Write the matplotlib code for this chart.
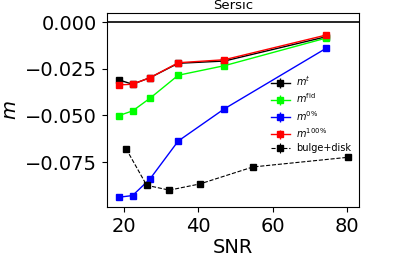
import matplotlib
matplotlib.use("Agg")
import matplotlib.pyplot as plt

# SNR values of each simulation bin
snr = [18.6, 22.3, 27.0, 34.6, 47.0, 74.4]
m_t = [-0.0310, -0.0333, -0.0298, -0.0221, -0.0209, -0.0079]
m_fid = [-0.0501, -0.0476, -0.0408, -0.0285, -0.0234, -0.0086]
m_0 = [-0.0938, -0.0929, -0.0840, -0.0637, -0.0465, -0.0141]
m_100 = [-0.0337, -0.0333, -0.0298, -0.0218, -0.0202, -0.0070]

snr_bd = [20.6, 26.1, 32.2, 40.4, 54.7, 80.4]
m_bd = [-0.0680, -0.0874, -0.0900, -0.0867, -0.0776, -0.0724]

fig = plt.figure(figsize=(3.99, 2.66), dpi=100)
ax = fig.add_axes([0.268, 0.222, 0.632, 0.729])

err = [1e-4] * len(snr)
ax.errorbar(snr, m_t, yerr=err, fmt="s-", color="black", ms=4, lw=1, label=r"$m^t$")
ax.errorbar(snr, m_fid, yerr=err, fmt="s-", color="#00ff00", ms=4, lw=1, label=r"$m^{\rm fid}$")
ax.errorbar(snr, m_0, yerr=err, fmt="s-", color="blue", ms=4, lw=1, label=r"$m^{0\%}$")
ax.errorbar(snr, m_100, yerr=err, fmt="s-", color="red", ms=4, lw=1, label=r"$m^{100\%}$")
ax.errorbar(snr_bd, m_bd, yerr=[1e-4] * len(snr_bd), fmt="s--", color="black", ms=4, lw=0.8,
            label="bulge+disk")
ax.axhline(0.0, color="black", lw=1.2)

ax.set_xlim(15.4, 83.3)
ax.set_ylim(-0.099, 0.0048)
ax.set_xticks([20, 40, 60, 80])
ax.set_yticks([0.0, -0.025, -0.05, -0.075])
ax.tick_params(labelsize=14)
ax.set_xlabel("SNR", fontsize=14, labelpad=2)
ax.set_ylabel(r"$m$", fontsize=14)
ax.set_title("Sersic", fontsize=9.5, pad=3)
ax.legend(loc="upper left", bbox_to_anchor=(0.678, 0.72), bbox_transform=fig.transFigure,
          frameon=False, fontsize=7, handlelength=2.0, handletextpad=0.6,
          labelspacing=0.35, borderpad=0, borderaxespad=0)

fig.savefig("out.png", dpi=100)
